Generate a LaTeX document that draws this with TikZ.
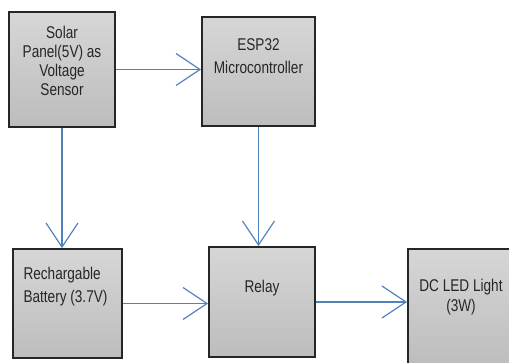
\documentclass[tikz,border=0pt]{standalone}
\usepackage{fontspec}
\setmainfont{Liberation Sans}[FakeStretch=0.8]
\usepackage{tikz}
\usetikzlibrary{arrows.meta,shadows}
\definecolor{BlockArrowColor}{RGB}{79,129,189}

\begin{document}
\begin{tikzpicture}[x=1pt,y=-1pt,
  blk/.style n args={2}{rectangle,draw=black!85,line width=1.8pt,minimum width=#1pt,minimum height=#2pt,top color=gray!32,middle color=gray!20,bottom color=gray!52,drop shadow={shadow xshift=-1pt,shadow yshift=-1.5pt,opacity=0.5}},
  txt/.style={font=\fontsize{17}{19}\selectfont,text=black!85,align=center,inner sep=0pt},
  flow/.style={draw=BlockArrowColor,line width=1.2pt,-{Straight Barb[length=24pt,width=32pt,line width=1.2pt]}}]
\clip (0,0) rectangle (509,363);
% blocks
   \node[blk={106}{115}](solar) at(62,69.5) {};
   \node[blk={113}{109}](esp) at(258.5,71.5) {};
   \node[blk={109}{109}](batt) at(67.5,303.5) {};
   \node[blk={106}{110}](relay) at(262,302) {};
   \node[blk={106}{118}](led) at(461,308) {};
% labels
   \node[txt](solarTxt) at([yshift=9pt]solar.center) {Solar\\Panel(5V) as\\Voltage\\Sensor};
   \node[txt,font=\fontsize{17}{23}\selectfont](espTxt) at([yshift=15pt]esp.center) {ESP32\\Microcontroller};
   \node[txt,align=left,font=\fontsize{17}{23}\selectfont](battTxt) at([xshift=-2pt,yshift=17pt]batt.center) {Rechargable\\Battery (3.7V)};
   \node[txt](relayTxt) at([yshift=14pt]relay.center) {Relay};
   \node[txt,font=\fontsize{17}{20}\selectfont](ledTxt) at([yshift=11pt]led.center) {DC LED Light\\(3W)};
% connectors
\draw[flow] (solar.east) -- (solar.east -| esp.west);
\draw[flow] (solar.south) -- (solar.south |- batt.north);
\draw[flow] (esp.south) -- (esp.south |- relay.north);
\draw[flow] (batt.east) -- (batt.east -| relay.west);
\draw[flow] (relay.east) -- (relay.east -| led.west);
\end{tikzpicture}
\end{document}
